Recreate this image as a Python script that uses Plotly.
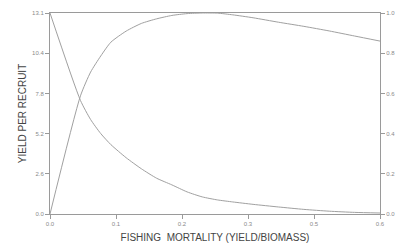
import plotly.graph_objects as go

F = [0, 0.06, 0.08, 0.10, 0.12, 0.15, 0.18, 0.21, 0.24, 0.27, 0.30, 0.33, 0.36,
     0.40, 0.45, 0.50, 0.55, 0.60, 0.65]
yield_per_recruit = [0, 7.7, 9.25, 10.3, 11.2, 11.92, 12.42, 12.72, 12.94, 13.06,
                     13.1, 13.09, 12.98, 12.79, 12.5, 12.23, 11.93, 11.6, 11.27]
biomass_ratio = [1.0, 0.565, 0.47, 0.40, 0.345, 0.28, 0.225, 0.178, 0.145, 0.11,
                 0.085, 0.07, 0.06, 0.048, 0.035, 0.023, 0.014, 0.008, 0.005]

x_tickvals = [0, 0.13, 0.26, 0.39, 0.52, 0.65]
x_ticktext = ["0.0", "0.1", "0.2", "0.3", "0.5", "0.6"]
y_tickvals = [0, 2.62, 5.24, 7.86, 10.48, 13.1]
y_ticktext = ["0.0", "2.6", "5.2", "7.8", "10.4", "13.1"]
y2_tickvals = [0, 0.2, 0.4, 0.6, 0.8, 1.0]
y2_ticktext = ["0.0", "0.2", "0.4", "0.6", "0.8", "1.0"]

line_col = "#a0a0a0"
axis_col = "#9a9a9a"
tick_font = dict(family="Liberation Sans, Arial", size=6, color="#8a8a8a")

fig = go.Figure()
fig.add_trace(go.Scatter(x=F, y=yield_per_recruit, mode="lines",
                         line=dict(color=line_col, width=1, shape="spline", smoothing=0.6),
                         yaxis="y"))
fig.add_trace(go.Scatter(x=F, y=biomass_ratio, mode="lines",
                         line=dict(color=line_col, width=1, shape="spline", smoothing=0.6),
                         yaxis="y2"))

fig.update_layout(
    width=402, height=246,
    autosize=False,
    margin=dict(l=50, r=22, t=13, b=32, autoexpand=False),
    paper_bgcolor="white", plot_bgcolor="white",
    showlegend=False,
    xaxis=dict(range=[0, 0.65], tickvals=x_tickvals, ticktext=x_ticktext,
               automargin=False,
               showgrid=False, zeroline=False, showline=True, linecolor=axis_col,
               linewidth=1, mirror=True, ticks="outside", ticklen=4,
               tickcolor=axis_col, tickfont=tick_font,
               title=dict(text="FISHING  MORTALITY (YIELD/BIOMASS)", standoff=7,
                          font=dict(family="Liberation Sans, Arial", size=10,
                                    color="#444444"))),
    yaxis=dict(range=[0, 13.1], tickvals=y_tickvals, ticktext=y_ticktext,
               automargin=False,
               showgrid=False, zeroline=False, showline=True, linecolor=axis_col,
               linewidth=1, ticks="outside", ticklen=4, tickcolor=axis_col,
               tickfont=tick_font,
               title=dict(text="YIELD PER RECRUIT", standoff=3,
                          font=dict(family="Liberation Sans, Arial", size=10,
                                    color="#444444"))),
    yaxis2=dict(range=[0, 1.0], tickvals=y2_tickvals, ticktext=y2_ticktext,
                automargin=False,
                overlaying="y", side="right",
                showgrid=False, zeroline=False, showline=True, linecolor=axis_col,
                linewidth=1, ticks="outside", ticklen=4, tickcolor=axis_col,
                tickfont=tick_font),
)

fig.write_html("out.html", config={"displayModeBar": False},
               post_script="document.body.style.margin='0';document.body.style.padding='0';")
